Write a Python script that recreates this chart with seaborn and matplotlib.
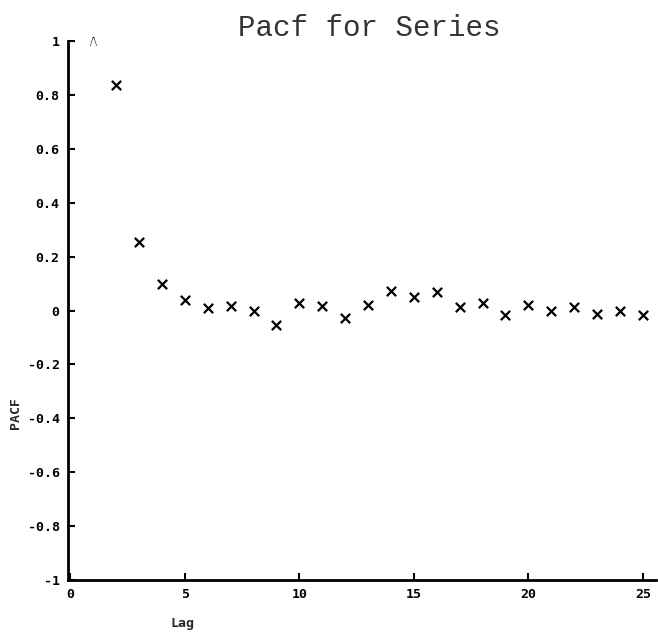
import numpy as np
import pandas as pd
import seaborn as sns
import matplotlib.pyplot as plt

# ===== data =====
lags = list(range(2, 26))
pacf_values = [0.837, 0.255, 0.10, 0.04, 0.008, 0.015, 0.0, -0.055, 0.027, 0.015,
               -0.027, 0.019, 0.072, 0.05, 0.068, 0.012, 0.027, -0.015, 0.02,
               -0.003, 0.012, -0.013, -0.003, -0.015]
first_lag = [1]
first_value = [1.0]
x_ticks = [0, 5, 10, 15, 20, 25]
y_ticks = [-1, -0.8, -0.6, -0.4, -0.2, 0, 0.2, 0.4, 0.6, 0.8, 1]
y_tick_labels = ["-1", "-0.8", "-0.6", "-0.4", "-0.2", "0", "0.2", "0.4", "0.6", "0.8", "1"]

df = pd.DataFrame({"Lag": lags, "Pacf": pacf_values})
df_first = pd.DataFrame({"Lag": first_lag, "Pacf": first_value})

sns.set_theme(style="white")
plt.rcParams["font.family"] = ["DejaVu Sans Mono", "DejaVu Sans"]

fig = plt.figure(figsize=(6.58, 6.36), dpi=100)
ax = fig.add_axes([0.1033, 0.088, 0.8936, 0.8475])

sns.scatterplot(data=df, x="Lag", y="Pacf", marker="x", s=45, color="black",
                linewidth=1.6, ax=ax, legend=False)
# lag 1 sits on the top edge, drawn as a caret
sns.scatterplot(data=df_first, x="Lag", y="Pacf", marker=r"$\wedge$", s=55,
                color="black", linewidth=0.8, ax=ax, legend=False, clip_on=False)

ax.set_xlim(-0.1, 25.57)
ax.set_ylim(-1, 1)
ax.set_xticks(x_ticks)
ax.set_yticks(y_ticks)
ax.set_yticklabels(y_tick_labels)
ax.tick_params(axis="both", direction="in", length=5, width=1.5, labelsize=9.5,
               colors="black", left=True, bottom=True, pad=6)
for lbl in ax.get_xticklabels() + ax.get_yticklabels():
    lbl.set_fontweight("bold")

sns.despine(ax=ax)
for side in ["left", "bottom"]:
    ax.spines[side].set_linewidth(2)
    ax.spines[side].set_color("black")

ax.set_xlabel("")
ax.set_ylabel("")
fig.text(0.561, 0.956, "Pacf for Series", family="Liberation Mono", fontsize=21,
         color="#333333", ha="center", va="center")
fig.text(0.278, 0.010, "Lag", fontsize=9.5, fontweight="bold", ha="center", va="bottom")
fig.text(0.024, 0.35, "PACF", fontsize=9.5, fontweight="bold", rotation=90,
         ha="center", va="center")

plt.savefig("out.png", dpi=100)
plt.close()
